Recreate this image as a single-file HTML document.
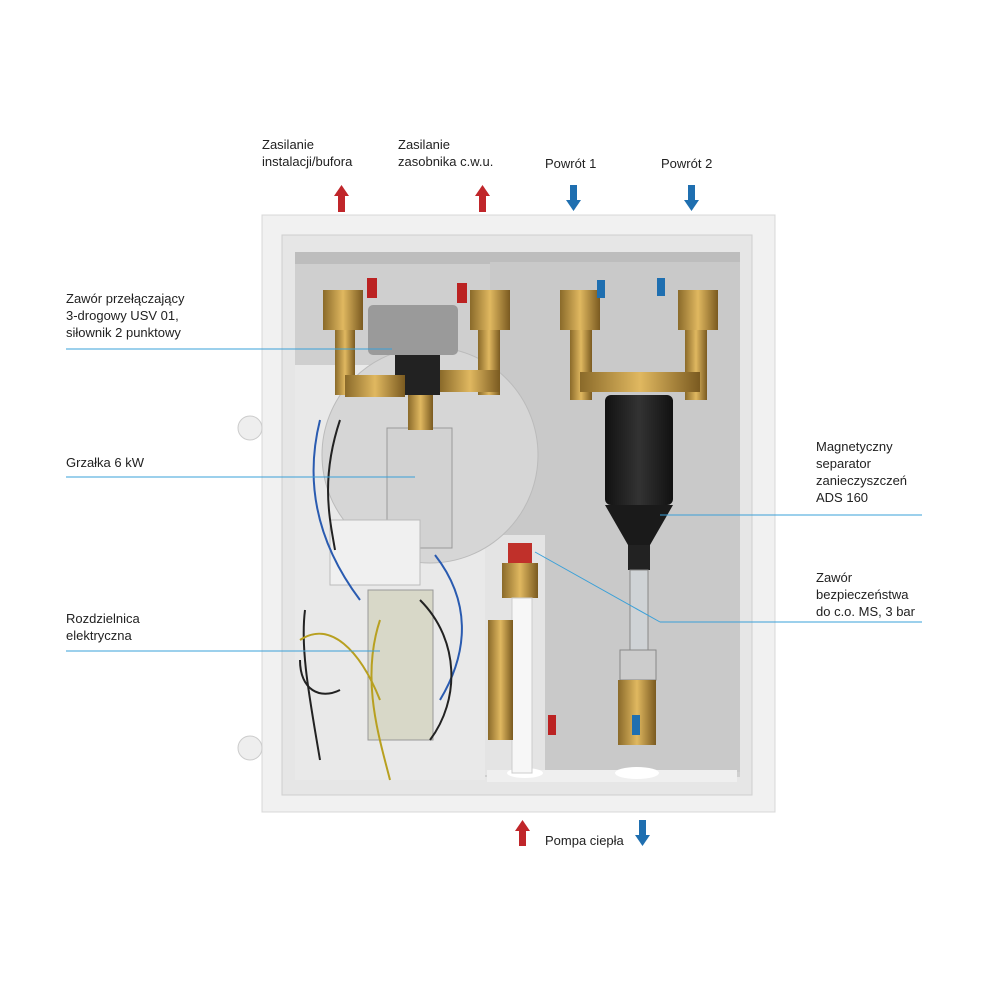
<!DOCTYPE html>
<html><head><meta charset="utf-8"><style>
html,body{margin:0;padding:0;background:#fff;}
body{width:1000px;height:1000px;position:relative;overflow:hidden;font-family:"Liberation Sans","DejaVu Sans",sans-serif;}
.t{position:absolute;font-size:13px;line-height:17px;color:#222;white-space:nowrap;}
svg{position:absolute;left:0;top:0;}
</style></head><body>
<svg width="1000" height="1000" viewBox="0 0 1000 1000">
<defs>
<linearGradient id="brass" x1="0" x2="1"><stop offset="0" stop-color="#8a6a2a"/><stop offset=".5" stop-color="#e0b860"/><stop offset="1" stop-color="#7a5a20"/></linearGradient>
<linearGradient id="sep" x1="0" x2="1"><stop offset="0" stop-color="#111"/><stop offset=".5" stop-color="#333"/><stop offset="1" stop-color="#111"/></linearGradient>
</defs>
<!-- outer cabinet -->
<rect x="262" y="215" width="513" height="597" fill="#f1f1f1" stroke="#d8d8d8"/>
<rect x="282" y="235" width="470" height="560" fill="#e6e6e6" stroke="#cfcfcf"/>
<!-- back panel -->
<rect x="295" y="252" width="445" height="525" fill="#cfcfcf"/>
<rect x="295" y="252" width="445" height="12" fill="#bdbdbd"/>
<rect x="490" y="262" width="250" height="510" fill="#c9c9c9"/>
<!-- left electric board -->
<rect x="295" y="365" width="190" height="415" fill="#e9e9e9"/>
<rect x="485" y="535" width="60" height="240" fill="#e4e4e4"/>
<rect x="487" y="770" width="250" height="12" fill="#efefef"/>
<ellipse cx="525" cy="773" rx="18" ry="5" fill="#fff"/>
<ellipse cx="637" cy="773" rx="22" ry="6" fill="#fff"/>
<!-- side glands -->
<circle cx="250" cy="428" r="12" fill="#eee" stroke="#ccc"/>
<circle cx="250" cy="748" r="12" fill="#eee" stroke="#ccc"/>
<!-- circular plate -->
<circle cx="430" cy="455" r="108" fill="#d6d6d6" stroke="#bbb"/>
<!-- heater -->
<rect x="387" y="428" width="65" height="120" fill="#d2d2d2" stroke="#999"/>
<rect x="408" y="395" width="25" height="35" fill="url(#brass)"/>
<!-- actuator -->
<rect x="368" y="305" width="90" height="50" rx="5" fill="#9a9a9a"/>
<rect x="395" y="355" width="45" height="40" fill="#222"/>
<!-- left valves -->
<rect x="323" y="290" width="40" height="40" fill="url(#brass)"/>
<rect x="335" y="330" width="20" height="65" fill="url(#brass)"/>
<rect x="345" y="375" width="60" height="22" fill="url(#brass)"/>
<rect x="470" y="290" width="40" height="40" fill="url(#brass)"/>
<rect x="478" y="330" width="22" height="65" fill="url(#brass)"/>
<rect x="440" y="370" width="60" height="22" fill="url(#brass)"/>
<!-- right valves -->
<rect x="560" y="290" width="40" height="40" fill="url(#brass)"/>
<rect x="570" y="330" width="22" height="70" fill="url(#brass)"/>
<rect x="678" y="290" width="40" height="40" fill="url(#brass)"/>
<rect x="685" y="330" width="22" height="70" fill="url(#brass)"/>
<rect x="580" y="372" width="120" height="20" fill="url(#brass)"/>
<!-- separator -->
<rect x="605" y="395" width="68" height="110" rx="6" fill="url(#sep)"/>
<path d="M605 505 L673 505 L650 545 L628 545 Z" fill="#1a1a1a"/>
<rect x="628" y="545" width="22" height="25" fill="#222"/>
<rect x="630" y="570" width="18" height="80" fill="#cfd3d6" stroke="#888"/>
<rect x="620" y="650" width="36" height="30" fill="#ccc" stroke="#888"/>
<rect x="618" y="680" width="38" height="65" fill="url(#brass)"/>
<!-- safety valve + pipe -->
<rect x="508" y="543" width="24" height="20" fill="#c0302a"/>
<rect x="502" y="563" width="36" height="35" fill="url(#brass)"/>
<rect x="512" y="598" width="20" height="175" fill="#f7f7f7" stroke="#ccc"/>
<rect x="488" y="620" width="25" height="120" fill="url(#brass)"/>
<!-- terminals -->
<rect x="330" y="520" width="90" height="65" fill="#f0f0f0" stroke="#bbb"/>
<rect x="368" y="590" width="65" height="150" fill="#d8d8c8" stroke="#999"/>
<g stroke="#2a5bb0" stroke-width="2" fill="none">
<path d="M320 420 C300 500 330 560 360 600"/><path d="M435 555 C470 600 470 650 440 700"/>
</g>
<g stroke="#222" stroke-width="2" fill="none">
<path d="M340 420 C320 480 330 520 335 550"/><path d="M305 610 C300 650 310 700 320 760"/><path d="M420 600 C460 640 460 700 430 740"/><path d="M300 660 C300 690 320 700 340 690"/>
</g>
<g stroke="#b8a020" stroke-width="2" fill="none"><path d="M300 640 C330 620 360 650 380 700"/><path d="M380 620 C360 680 380 740 390 780"/></g>
<!-- small arrows inside -->
<rect x="367" y="278" width="10" height="20" fill="#b22"/><rect x="457" y="283" width="10" height="20" fill="#b22"/>
<rect x="597" y="280" width="8" height="18" fill="#1f6fb0"/><rect x="657" y="278" width="8" height="18" fill="#1f6fb0"/>
<rect x="548" y="715" width="8" height="20" fill="#b22"/><rect x="632" y="715" width="8" height="20" fill="#1f6fb0"/>
<!-- leader lines -->
<g stroke="#3aa0d8" stroke-width="1" fill="none">
<line x1="66" y1="349" x2="392" y2="349"/>
<line x1="66" y1="477" x2="415" y2="477"/>
<line x1="66" y1="651" x2="380" y2="651"/>
<line x1="660" y1="515" x2="922" y2="515"/>
<line x1="660" y1="622" x2="922" y2="622"/>
<line x1="535" y1="552" x2="660" y2="622"/>
</g>
<!-- external arrows -->
<g fill="#c0262a">
<rect x="338" y="195" width="7" height="17"/><polygon points="334,196 349,196 341.5,185"/>
<rect x="479" y="195" width="7" height="17"/><polygon points="475,196 490,196 482.5,185"/>
<rect x="519" y="830" width="7" height="16"/><polygon points="515,831 530,831 522.5,820"/>
</g>
<g fill="#1f6fb0">
<rect x="570" y="185" width="7" height="16"/><polygon points="566,200 581,200 573.5,211"/>
<rect x="688" y="185" width="7" height="16"/><polygon points="684,200 699,200 691.5,211"/>
<rect x="639" y="820" width="7" height="16"/><polygon points="635,835 650,835 642.5,846"/>
</g>
</svg>
<div class="t" style="left:262px;top:136px">Zasilanie<br>instalacji/bufora</div>
<div class="t" style="left:398px;top:136px">Zasilanie<br>zasobnika c.w.u.</div>
<div class="t" style="left:545px;top:155px">Powrót 1</div>
<div class="t" style="left:661px;top:155px">Powrót 2</div>
<div class="t" style="left:66px;top:290px">Zawór przełączający<br>3-drogowy USV 01,<br>siłownik 2 punktowy</div>
<div class="t" style="left:66px;top:454px">Grzałka 6 kW</div>
<div class="t" style="left:66px;top:610px">Rozdzielnica<br>elektryczna</div>
<div class="t" style="left:816px;top:438px">Magnetyczny<br>separator<br>zanieczyszczeń<br>ADS 160</div>
<div class="t" style="left:816px;top:569px">Zawór<br>bezpieczeństwa<br>do c.o. MS, 3 bar</div>
<div class="t" style="left:545px;top:832px">Pompa ciepła</div>
</body></html>
